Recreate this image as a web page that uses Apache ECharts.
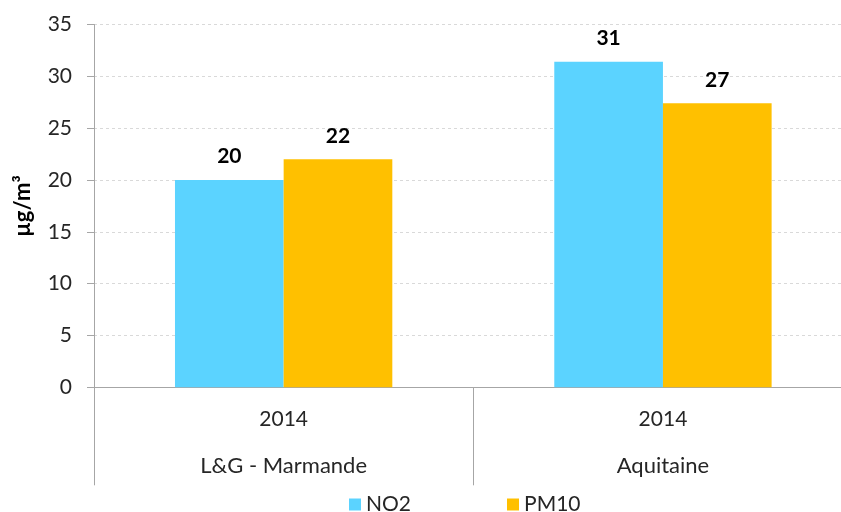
<!DOCTYPE html>
<html>
<head>
<meta charset="utf-8">
<script src="https://cdn.jsdelivr.net/npm/echarts@6/dist/echarts.min.js"></script>
<style>html,body{margin:0;padding:0;background:#fff;overflow:hidden;width:841px;height:512px}#c{width:870px;height:512px}</style>
</head>
<body>
<div id="c"></div>
<script>
const years = ['2014', '2014'];
const regions = ['L&G - Marmande', 'Aquitaine'];
const no2 = [20.0, 31.4];
const pm10 = [22.0, 27.4];
const yTicks = [0, 5, 10, 15, 20, 25, 30, 35];

const FONT = 'Lato';
const TXT = '#262626';
const chart = echarts.init(document.getElementById('c'));
const labelOpt = {
  show: true, position: 'top', distance: 13,
  fontFamily: FONT, fontSize: 21, fontWeight: 'bold', color: '#000',
  formatter: p => Math.round(p.value)
};
chart.setOption({
  animation: false,
  textStyle: { fontFamily: FONT },
  grid: { left: 94, top: 24.5, width: 758.6, height: 362.8 },
  legend: {
    left: 344, top: 489, itemWidth: 12, itemHeight: 12, itemGap: 96,
    icon: 'rect',
    textStyle: { fontFamily: FONT, fontSize: 21, color: TXT },
    data: ['NO2', 'PM10']
  },
  xAxis: [
    {
      type: 'category', data: years, position: 'bottom',
      axisLine: { lineStyle: { color: '#a6a6a6', width: 1 } },
      axisTick: { show: true, length: 98, lineStyle: { color: '#a6a6a6' } },
      axisLabel: { margin: 21, fontFamily: FONT, fontSize: 21, color: TXT }
    },
    {
      type: 'category', data: regions, position: 'bottom', gridIndex: 0,
      axisLine: { show: false }, axisTick: { show: false },
      axisLabel: { margin: 68, fontFamily: FONT, fontSize: 22, color: TXT }
    }
  ],
  yAxis: {
    type: 'value', min: yTicks[0], max: yTicks[yTicks.length - 1], interval: 5,
    name: 'µg/m³', nameLocation: 'middle', nameGap: 60, nameRotate: 90,
    nameTextStyle: { fontFamily: FONT, fontSize: 22, fontWeight: 'bold', color: '#000' },
    axisLine: { show: true, lineStyle: { color: '#a6a6a6' } },
    axisTick: { show: true, length: 7, lineStyle: { color: '#a6a6a6' } },
    axisLabel: { margin: 22, fontFamily: FONT, fontSize: 21, color: TXT },
    splitLine: { lineStyle: { color: '#d9d9d9', type: [3, 3] } }
  },
  series: [
    { name: 'NO2', type: 'bar', data: no2, barGap: 0, barCategoryGap: '42.7%',
      itemStyle: { color: '#5bd3ff' }, label: labelOpt },
    { name: 'PM10', type: 'bar', data: pm10, barGap: 0, barCategoryGap: '42.7%',
      itemStyle: { color: '#ffc000' }, label: labelOpt }
  ]
});
</script>
</body>
</html>
